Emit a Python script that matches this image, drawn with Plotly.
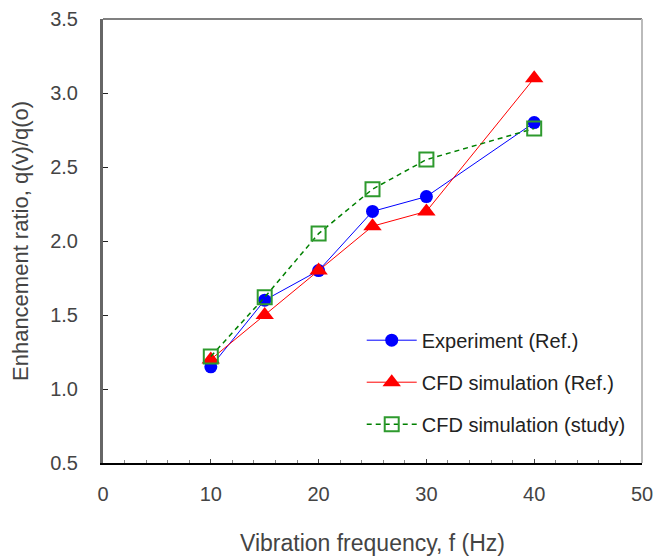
import plotly.graph_objects as go

freq = [10, 15, 20, 25, 30, 40]
experiment = [1.15, 1.60, 1.80, 2.20, 2.30, 2.80]
cfd_ref = [1.20, 1.50, 1.80, 2.10, 2.20, 3.10]
cfd_study = [1.22, 1.62, 2.05, 2.35, 2.55, 2.76]

x_ticks = [0, 10, 20, 30, 40, 50]
y_ticks = [0.5, 1.0, 1.5, 2.0, 2.5, 3.0, 3.5]

font = "Liberation Sans, Arial, sans-serif"

fig = go.Figure()
fig.add_trace(go.Scatter(
    x=freq, y=experiment, name="Experiment (Ref.)", mode="lines+markers",
    legendgroup="a",
    line=dict(color="#0000ff", width=1),
    marker=dict(symbol="circle", size=13, color="#0000ff")))
fig.add_trace(go.Scatter(
    x=freq, y=cfd_ref, name="CFD simulation (Ref.)", mode="lines+markers",
    legendgroup="b",
    line=dict(color="#ff0000", width=1),
    marker=dict(symbol="triangle-up", size=16, color="#ff0000")))
fig.add_trace(go.Scatter(
    x=freq, y=cfd_study, name="CFD simulation (study)", mode="lines+markers",
    legendgroup="c",
    line=dict(color="#008000", width=1.5, dash="5px,4px"),
    marker=dict(symbol="square-open", size=14, color="#2e9a2e", line=dict(width=2))))

# the page body adds an 8px offset; margins compensate for it
fig.update_layout(
    width=664, height=560,
    margin=dict(l=95, r=30, t=11, b=105),
    paper_bgcolor="white", plot_bgcolor="white",
    font=dict(family=font, size=20, color="#333333"),
    showlegend=True,
    legend=dict(x=0.48, y=0.182, xanchor="left", yanchor="middle",
                bgcolor="rgba(0,0,0,0)", tracegroupgap=13,
                font=dict(family=font, size=20, color="#222222"),
                itemwidth=50),
    xaxis=dict(range=[0, 50], tickvals=x_ticks, ticktext=[str(v) for v in x_ticks],
               automargin=False,
               showgrid=False, zeroline=False, showline=True, linecolor="black", linewidth=2,
               ticks="inside", ticklen=4, tickcolor="#444", tickwidth=1,
               minor=dict(dtick=2, ticks="inside", ticklen=3, tickcolor="#888"),
               ticklabelstandoff=12,
               tickfont=dict(size=20, color="#444444"),
               title=dict(text="Vibration frequency, f (Hz)", standoff=31,
                          font=dict(size=23, color="#444444"))),
    yaxis=dict(range=[0.5, 3.5], tickvals=y_ticks, ticktext=[f"{v:.1f}" for v in y_ticks],
               automargin=False,
               showgrid=False, zeroline=False, showline=True, linecolor="#666666", linewidth=3,
               ticks="inside", ticklen=5, tickcolor="#222", tickwidth=1,
               ticklabelstandoff=18,
               tickfont=dict(size=20, color="#444444"),
               title=dict(text="Enhancement ratio, q(v)/q(o)", standoff=17,
                          font=dict(size=22, color="#444444"))),
    shapes=[
        dict(type="line", xref="paper", yref="paper", x0=0, x1=1, y0=1, y1=1,
             line=dict(color="#808080", width=2)),
        dict(type="line", xref="paper", yref="paper", x0=1, x1=1, y0=0, y1=1,
             line=dict(color="#bbbbbb", width=2)),
    ],
)

fig.write_html("out.html")
